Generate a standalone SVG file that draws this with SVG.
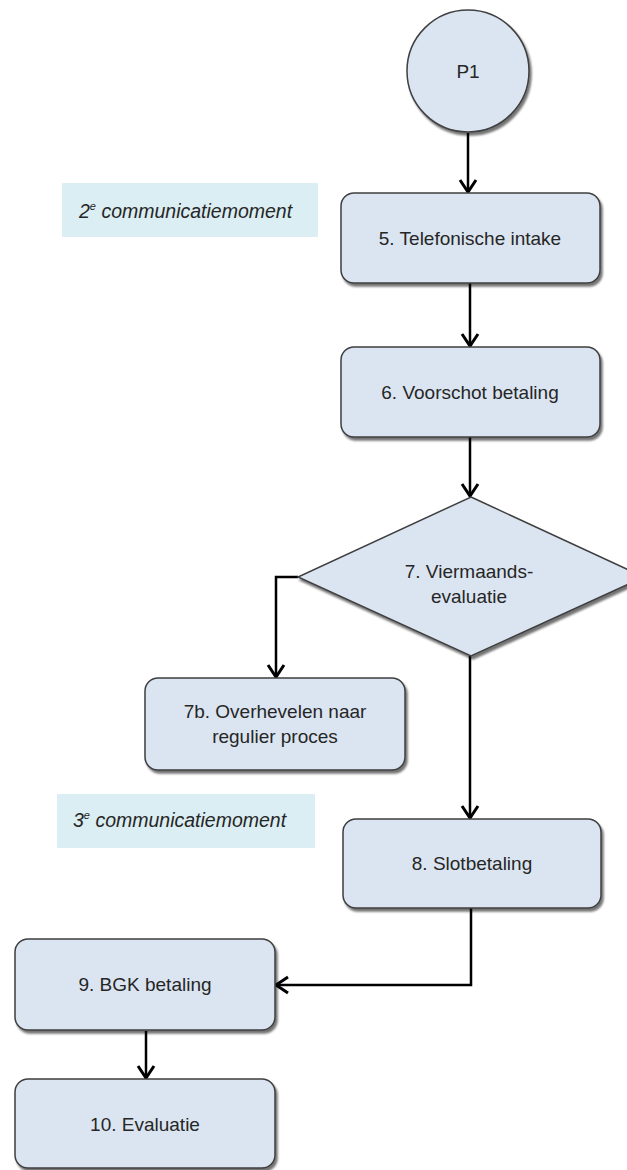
<svg xmlns="http://www.w3.org/2000/svg" width="627" height="1170" viewBox="0 0 627 1170">
<style>
.box{fill:#dbe5f1;stroke:#3f3f3f;stroke-width:1.5;filter:url(#sh)}
.t{font-family:"Liberation Sans",Arial,sans-serif;font-size:19px;fill:#262626;text-anchor:middle}
.lab{fill:#dbeef3}
.it{font-family:"Liberation Sans",Arial,sans-serif;font-size:19.5px;font-style:italic;fill:#262626}
.sup{font-size:11px}
.c{fill:none;stroke:#000;stroke-width:2.5;marker-end:url(#ah)}
</style>
<defs>
<filter id="sh" x="-10%" y="-10%" width="125%" height="130%">
<feGaussianBlur in="SourceAlpha" stdDeviation="1.2"/>
<feOffset dx="2" dy="2.5" result="o"/>
<feComponentTransfer><feFuncA type="linear" slope="0.55"/></feComponentTransfer>
<feMerge><feMergeNode/><feMergeNode in="SourceGraphic"/></feMerge>
</filter>
<marker id="ah" markerUnits="userSpaceOnUse" markerWidth="20" markerHeight="20" viewBox="0 0 20 20" refX="17" refY="10" orient="auto">
<path d="M5,2 L17,10 L5,18" fill="none" stroke="#000" stroke-width="3"/>
</marker>
</defs>
<g id="labels">
<g id="label2"><rect class="lab" x="62" y="183" width="256" height="54"/><text class="it" x="79" y="218">2<tspan class="sup" dy="-8">e</tspan><tspan dy="8"> communicatiemoment</tspan></text></g>
<g id="label3"><rect class="lab" x="57" y="794" width="258" height="54"/><text class="it" x="73" y="827">3<tspan class="sup" dy="-8">e</tspan><tspan dy="8"> communicatiemoment</tspan></text></g>
</g>
<g id="connectors">
<path class="c" d="M468,133 V192"/>
<path class="c" d="M470,283 V346"/>
<path class="c" d="M470,437 V496"/>
<path class="c" d="M298,577 H276 V677"/>
<path class="c" d="M470,656 V818"/>
<path class="c" d="M471,908 V985 H276"/>
<path class="c" d="M146,1031 V1078"/>
</g>
<g id="p1"><circle cx="468" cy="71" r="61" class="box"/><text class="t" x="468" y="78">P1</text></g>
<g id="n5"><rect class="box" x="341" y="193" width="259" height="90" rx="13"/><text class="t" x="470" y="245">5. Telefonische intake</text></g>
<g id="n6"><rect class="box" x="341" y="347" width="259" height="90" rx="13"/><text class="t" x="470" y="399">6. Voorschot betaling</text></g>
<g id="n7"><path class="box" d="M471,497 L644,577 L471,656 L298,577 Z"/><text class="t" x="469" y="578">7. Viermaands-</text><text class="t" x="469" y="603">evaluatie</text></g>
<g id="n7b"><rect class="box" x="145" y="678" width="260" height="92" rx="13"/><text class="t" x="275" y="718">7b. Overhevelen naar</text><text class="t" x="275" y="743">regulier proces</text></g>
<g id="n8"><rect class="box" x="343" y="819" width="258" height="89" rx="13"/><text class="t" x="472" y="870">8. Slotbetaling</text></g>
<g id="n9"><rect class="box" x="15" y="939" width="260" height="91" rx="13"/><text class="t" x="145" y="991">9. BGK betaling</text></g>
<g id="n10"><rect class="box" x="15" y="1079" width="260" height="89" rx="13"/><text class="t" x="145" y="1131">10. Evaluatie</text></g>
</svg>
